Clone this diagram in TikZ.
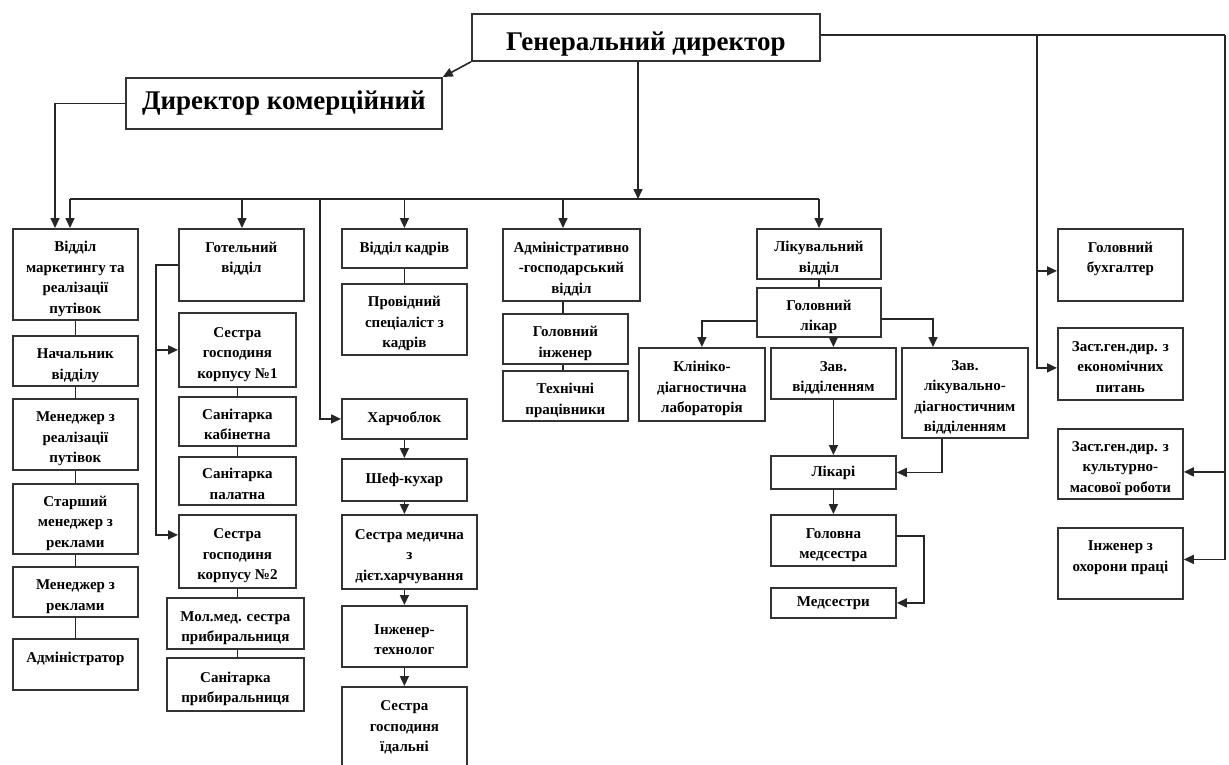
\documentclass[tikz,border=0pt]{standalone}
\usepackage{fontspec}
\setmainfont{Liberation Serif}
\usetikzlibrary{arrows.meta}

% \orgbox[style]{name}{left}{top}{right}{bottom}{text}
% the style sets the invisible struts that place the text in the box
\newcommand\orgbox[7][box]{%
  \node[#1,minimum width={#5-#3},minimum height={#6-#4}] (#2) at (#3,#4)
    {\rule{0pt}{\bxH}#7\rule[-\bxD]{0pt}{0pt}};}

\begin{document}
\begin{tikzpicture}[x=1pt,y=-1pt,
  box1/.style={draw=black!80,line width=1.8pt,anchor=north west,inner sep=0pt,
    align=center,font=\fontsize{15}{20.5}\selectfont\bfseries,
    /utils/exec={\def\bxH{0pt}\def\bxD{0pt}}},
  box/.style={box1,/utils/exec={\def\bxH{20pt}\def\bxD{4pt}}},
  bigbox1/.style={box1,font=\fontsize{27}{32}\selectfont\bfseries},
  bigbox/.style={bigbox1,/utils/exec={\def\bxH{33pt}\def\bxD{6pt}}},
  link/.style={draw=black!85,line width=1.6pt},
  arr/.style={link,-{Triangle[length=10pt,width=9pt]}},
]
\fill[white] (0,0) rectangle (1229,765);
\clip (0,0) rectangle (1229,765);

% top management
\orgbox[bigbox]{gen}{471}{13}{819}{60}{Генеральний директор}
\orgbox[bigbox1]{dir}{125}{77}{441}{128}{Директор комерційний}

% marketing column
\orgbox{mkt}{12}{228}{137}{319}{Відділ\\маркетингу та\\реалізації\\путівок}
\orgbox{nach}{12}{335}{137}{385}{Начальник\\відділу}
\orgbox{men1}{12}{398}{137}{469}{Менеджер з\\реалізації\\путівок}
\orgbox{star}{12}{483}{137}{553}{Старший\\менеджер з\\реклами}
\orgbox{men2}{12}{566}{137}{616}{Менеджер з\\реклами}
\orgbox{adm}{12}{638}{137}{689}{Адміністратор\\\mbox{}}

% hotel column
\orgbox{hotel}{178}{228}{303}{300}{Готельний\\відділ\\\mbox{}}
\orgbox{ses1}{178}{312}{295}{386}{Сестра\\господиня\\корпусу №1}
\orgbox{sank}{178}{396}{295}{445}{Санітарка\\кабінетна}
\orgbox{sanp}{178}{456}{295}{504}{Санітарка\\палатна}
\orgbox{ses2}{178}{514}{295}{587}{Сестра\\господиня\\корпусу №2}
\orgbox{mol}{166}{597}{303}{648}{Мол.мед. сестра\\прибиральниця}
\orgbox{sanpr}{166}{657}{303}{710}{Санітарка\\прибиральниця}

% personnel and catering column
\orgbox[box1]{kadr}{341}{228}{466}{267}{Відділ кадрів}
\orgbox{prov}{341}{283}{466}{354}{Провідний\\спеціаліст з\\кадрів}
\orgbox[box1]{kharch}{341}{398}{466}{438}{Харчоблок}
\orgbox[box1]{shef}{341}{458}{466}{500}{Шеф-кухар}
\orgbox{sesmed}{341}{514}{476}{588}{Сестра медична\\з\\дієт.харчування}
\orgbox{inzh}{341}{605}{466}{666}{Інженер-\\технолог}
\orgbox[box1]{sesid}{341}{686}{466}{767}{Сестра\\господиня\\їдальні}

% administrative column
\orgbox{admin}{502}{228}{639}{300}{Адміністративно\\-господарський\\відділ}
\orgbox{golinzh}{502}{313}{627}{363}{Головний\\інженер}
\orgbox{tech}{502}{370}{627}{420}{Технічні\\працівники}

% medical department
\orgbox{likuv}{756}{228}{880}{278}{Лікувальний\\відділ}
\orgbox{gollik}{756}{287}{880}{336}{Головний\\лікар}
\orgbox{klin}{638}{347}{764}{420}{Клініко-\\діагностична\\лабораторія}
\orgbox{zavv}{770}{347}{895}{398}{Зав.\\відділенням}
\orgbox{zavl}{901}{347}{1027}{437}{Зав.\\лікувально-\\діагностичним\\відділенням}
\orgbox[box1]{likari}{770}{455}{895}{488}{Лікарі}
\orgbox{golmed}{770}{514}{895}{565}{Головна\\медсестра}
\orgbox[box1]{meds}{770}{587}{895}{617}{Медсестри}

% deputies column
\orgbox{buh}{1057}{228}{1182}{300}{Головний\\бухгалтер\\\mbox{}}
\orgbox{econ}{1057}{327}{1182}{399}{Заст.ген.дир. з\\економічних\\питань}
\orgbox{kult}{1057}{428}{1182}{498}{Заст.ген.дир. з\\культурно-\\масової роботи}
\orgbox{ohor}{1057}{527}{1182}{598}{Інженер з\\охорони праці\\\mbox{}}

% main bus below the general director
\coordinate (busL) at (70,199);
\coordinate (busR) at (819,199);
\coordinate (gdrop) at (638,199);
\coordinate (b2) at (242,199);
\coordinate (b3) at (320,199);
\coordinate (b5) at (563,199);
\draw[arr] (gen.south -| gdrop) -- (gdrop);
\draw[link] (busL) -- (busR);
\draw[arr] (busL) -- (mkt.north -| busL);
\draw[arr] (b2) -- (hotel.north -| b2);
\draw[arr] (b3) |- (kharch.west);
\draw[arr] (kadr.north |- busL) -- (kadr.north);
\draw[arr] (b5) -- (admin.north -| b5);
\draw[arr] (busR) -- (likuv.north -| busR);

% commercial director
\draw[arr] (gen.south west) -- (dir.north east);
\draw[arr] (dir.west) -| ([xshift=43pt]mkt.north west);

% right-hand branches
\coordinate (rx) at (1225,35);
\coordinate (lx) at (1037,35);
\draw[link] (gen.east |- rx) -- (rx);
\draw[arr] (rx) |- ([yshift=4pt]ohor.east);
\draw[arr] (rx) |- ([yshift=-8pt]kult.east);
\draw[arr] (lx) |- ([yshift=-6pt]buh.west);
\draw[arr] (lx) |- ([yshift=-4pt]econ.west);

% marketing chain
\draw[link] (mkt) -- (nach) -- (men1) -- (star) -- (men2) -- (adm);

% hotel chain
\draw[arr] (hotel.west) -- ++(-22,0) |- (ses1.west);
\draw[arr] (hotel.west) -- ++(-22,0) |- ([yshift=16.5pt]ses2.west);
\draw[link] (ses1) -- (sank) -- (sanp);
\draw[link] (ses2.south) -- (ses2.south |- mol.north);
\draw[link] (ses2.south |- mol.south) -- (ses2.south |- sanpr.north);

% personnel and catering chain
\draw[link] (kadr) -- (prov);
\draw[arr] (kharch) -- (shef);
\draw[arr] (shef.south) -- (shef.south |- sesmed.north);
\draw[arr] (shef.south |- sesmed.south) -- (inzh.north);
\draw[arr] (inzh) -- (sesid);

% administrative chain
\draw[link] (admin.south -| b5) -- (golinzh.north -| b5);
\draw[link] (golinzh.south -| b5) -- (tech.north -| b5);

% medical chain
\draw[link] (likuv) -- (gollik);
\draw[arr] ([yshift=-8.5pt]gollik.west) -| (klin.north);
\draw[arr] (zavv.north |- gollik.south) -- (zavv.north);
\draw[arr] ([yshift=-6.5pt]gollik.east) -| ([xshift=32pt]zavl.north west);
\draw[arr] (zavv) -- (likari);
\draw[arr] ([xshift=41pt]zavl.south west) |- (likari.east);
\draw[arr] (likari) -- (golmed);
\draw[arr] ([yshift=4.5pt]golmed.east) -- ++(27,0) |- (meds.east);
\end{tikzpicture}
\end{document}
